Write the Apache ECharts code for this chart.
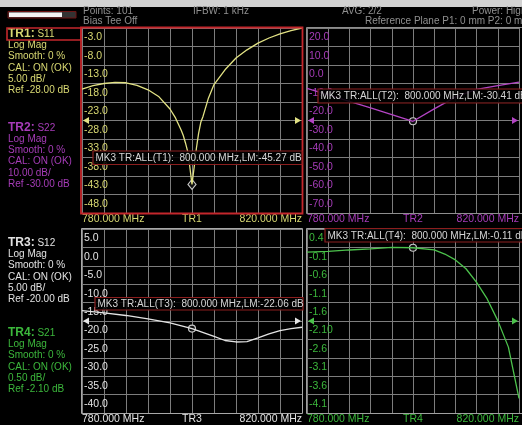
<!DOCTYPE html>
<html>
<head>
<meta charset="utf-8">
<script src="https://cdn.jsdelivr.net/npm/echarts@6/dist/echarts.min.js"></script>
<style>
  html, body { margin: 0; padding: 0; background: #000; }
  #c { width: 522px; height: 425px; }
</style>
</head>
<body>
<div id="c"></div>
<script>
// ---- sweep ----
const sweepStart = 780;   // MHz
const sweepStop = 820;    // MHz
const sweepStep = 4;      // MHz per division
const markerFreq = 800;   // MHz

// ---- TR1: S11 ----
const freqS11 = [780, 782, 784, 786, 788, 790, 792, 794, 796, 797, 798, 798.4, 798.8, 799.2, 799.6, 800, 800.4, 800.8, 801.2, 801.6, 802, 803, 804, 806, 808, 810, 812, 814, 816, 818, 820];
const s11 = [-19.5, -18.6, -18.0, -17.7, -17.8, -18.5, -19.7, -21.6, -24.9, -27.3, -30.5, -32.0, -34.0, -36.3, -40.5, -45.27, -40.5, -35.5, -31.5, -28.5, -26.9, -21.9, -18.3, -14.3, -11.1, -8.9, -7.1, -5.7, -4.6, -3.7, -3.0];
const tr1Ticks = ['-3.0', '-8.0', '-13.0', '-18.0', '-23.0', '-28.0', '-33.0', '-38.0', '-43.0', '-48.0'];

// ---- TR2: S22 ----
const freqS22 = [780, 784, 788, 792, 796, 800, 804, 808, 812, 816, 820];
const s22 = [-12.6, -16.2, -19.7, -23.2, -26.8, -30.41, -23.7, -17.4, -13.2, -11.1, -9.2];
const tr2Ticks = ['20.0', '10.0', '0.0', '-10.0', '-20.0', '-30.0', '-40.0', '-50.0', '-60.0', '-70.0'];

// ---- TR3: S12 ----
const freqS12 = [780, 784, 788, 792, 796, 800, 804, 806, 808, 810, 812, 814, 816, 818, 820];
const s12 = [-17.2, -17.8, -18.5, -19.4, -20.5, -22.06, -24.2, -25.3, -25.7, -25.6, -24.6, -23.5, -22.6, -22.1, -21.7];
const tr3Ticks = ['5.0', '0.0', '-5.0', '-10.0', '-15.0', '-20.0', '-25.0', '-30.0', '-35.0', '-40.0'];

// ---- TR4: S21 ----
const freqS21 = [780, 784, 788, 792, 796, 800, 804, 806, 808, 810, 812, 814, 816, 818, 820];
const s21 = [-0.23, -0.21, -0.17, -0.14, -0.10, -0.11, -0.17, -0.28, -0.44, -0.68, -1.05, -1.5, -2.09, -2.81, -4.2];
const tr4Ticks = ['0.4', '-0.1', '-0.6', '-1.1', '-1.6', '-2.10', '-2.6', '-3.1', '-3.6', '-4.1'];

// per-trace scale settings
const traceNames = ['TR1', 'TR2', 'TR3', 'TR4'];
const traceParams = ['S11', 'S22', 'S12', 'S21'];
const refLevels = [-28, -30, -20, -2.1];
const perDivs = [5, 10, 5, 0.5];
const markerValues = [-45.27, -30.41, -22.06, -0.11];

const FONT = '"Liberation Sans", Arial, sans-serif';
const GRID_LINE = '#7d7d7d';
const DIVS = 10;

const traces = [
  { freq: freqS11, vals: s11, ticks: tr1Ticks, color: '#e2e284', text: '#d8d872',
    grid: { left: 82, top: 28, width: 220, height: 185 }, mkSymbol: 'diamond' },
  { freq: freqS22, vals: s22, ticks: tr2Ticks, color: '#b344c4', text: '#a63cb8',
    grid: { left: 307, top: 28, width: 222, height: 185 }, mkSymbol: 'circle' },
  { freq: freqS12, vals: s12, ticks: tr3Ticks, color: '#e4e4e4', text: '#e2e2e2',
    grid: { left: 82, top: 229, width: 220, height: 184 }, mkSymbol: 'circle' },
  { freq: freqS21, vals: s21, ticks: tr4Ticks, color: '#4cc24c', text: '#3cb83c',
    grid: { left: 307, top: 229, width: 222, height: 184 }, mkSymbol: 'circle' }
];

const grids = [], xAxes = [], yAxes = [], series = [];

traces.forEach((t, i) => {
  const ref = refLevels[i], pd = perDivs[i];
  grids.push({ left: t.grid.left, top: t.grid.top, width: t.grid.width, height: t.grid.height, containLabel: false });

  xAxes.push({
    gridIndex: i, type: 'value', min: sweepStart, max: sweepStop, interval: sweepStep,
    axisLine: { show: false }, axisTick: { show: false },
    splitLine: { show: true, lineStyle: { color: GRID_LINE, width: 1 } },
    axisLabel: {
      show: true, margin: 1, color: t.text, fontSize: 10.5, fontFamily: FONT,
      alignMinLabel: 'left', alignMaxLabel: 'right',
      formatter: v => v === sweepStart ? sweepStart.toFixed(3) + ' MHz'
        : v === markerFreq ? traceNames[i]
        : v === sweepStop ? sweepStop.toFixed(3) + ' MHz' : ''
    }
  });

  // dB scale used by the trace
  yAxes.push({
    gridIndex: i, type: 'value', show: false,
    min: ref - pd * DIVS / 2, max: ref + pd * DIVS / 2
  });
  // division scale carrying the graticule and its labels
  yAxes.push({
    gridIndex: i, type: 'value', min: 0, max: DIVS, interval: 1, position: 'left',
    axisLine: { show: false }, axisTick: { show: false },
    splitLine: { show: true, lineStyle: { color: GRID_LINE, width: 1 } },
    axisLabel: {
      show: true, inside: true, margin: 2, verticalAlign: 'top', padding: [4, 0, 0, 0],
      color: t.text, fontSize: 10.5, fontFamily: FONT,
      formatter: v => t.ticks[DIVS - v] || ''
    }
  });

  series.push({
    type: 'line', xAxisIndex: i, yAxisIndex: 2 * i,
    data: t.freq.map((f, k) => [f, t.vals[k]]),
    showSymbol: false, symbol: 'none', silent: true,
    lineStyle: { color: t.color, width: 1.3 },
    z: 5,
    markPoint: {
      silent: true, animation: false,
      label: { show: false },
      data: [
        // active marker
        { coord: [markerFreq, markerValues[i]], symbol: t.mkSymbol,
          symbolSize: t.mkSymbol === 'diamond' ? [8, 10] : 7,
          itemStyle: { color: '#111', borderColor: '#c8c8c8', borderWidth: 1.2 } },
        // reference level arrows
        { coord: [sweepStart, ref], symbol: 'triangle', symbolSize: [7, 6], symbolRotate: 90,
          symbolOffset: [4, 0], itemStyle: { color: t.color } },
        { coord: [sweepStop, ref], symbol: 'triangle', symbolSize: [7, 6], symbolRotate: -90,
          symbolOffset: [-4, 0], itemStyle: { color: t.color } }
      ]
    }
  });
});

// ---- screen furniture ----
const graphic = [];

// top band and status bar
graphic.push({ type: 'rect', shape: { x: 0, y: 0, width: 522, height: 7 }, style: { fill: '#d2d2d2' }, z: 1 });
graphic.push({ type: 'rect', shape: { x: 8, y: 11.5, width: 68, height: 6.5 }, style: { fill: '#333', stroke: '#6e1414', lineWidth: 1 }, z: 1 });
graphic.push({ type: 'rect', shape: { x: 9, y: 12.5, width: 53, height: 4.5 }, style: { fill: '#f4f4f4' }, z: 2 });

const headerColor = '#909090';
const headerItems = [
  ['Points: 101', 83, 11.7], ['Bias Tee Off', 83, 21.7],
  ['IFBW: 1 kHz', 193, 11.7], ['AVG: 2/2', 342, 11.7],
  ['Power: High', 472, 11.7], ['Reference Plane P1: 0 mm P2: 0 mm', 365, 21.7]
];
headerItems.forEach(([s, x, y]) => graphic.push({
  type: 'text', x, y, z: 3,
  style: { text: s, fill: headerColor, font: '10px ' + FONT, verticalAlign: 'middle', align: 'left' }
}));

// channel status blocks on the left
const blockTops = [34, 127.8, 243, 333];
const lineStep = 11.3;
traces.forEach((t, i) => {
  const lines = [
    '{b|' + traceNames[i] + ':} ' + traceParams[i],
    'Log Mag', 'Smooth: 0 %', 'CAL: ON (OK)',
    perDivs[i].toFixed(2) + ' dB/',
    'Ref ' + refLevels[i].toFixed(2) + ' dB'
  ];
  lines.forEach((s, k) => graphic.push({
    type: 'text', x: 8, y: blockTops[i] + k * lineStep, z: 3,
    style: {
      text: s, fill: t.text, font: '10px ' + FONT, verticalAlign: 'middle', align: 'left',
      rich: { b: { fontWeight: 'bold', fill: t.text, font: 'bold 10px ' + FONT } }
    }
  }));
});

// panel frames
const frames = [
  { x: 81, y: 27.5, w: 221.5, h: 186, c: '#c4272c', lw: 1.8 },
  { x: 306.5, y: 27.5, w: 230, h: 186, c: '#8e8e8e', lw: 1 },
  { x: 81.5, y: 228.5, w: 221, h: 185, c: '#a8a8a8', lw: 1 },
  { x: 306.5, y: 228.5, w: 230, h: 185, c: '#a0a0a0', lw: 1 }
];
frames.forEach(f => graphic.push({
  type: 'rect', shape: { x: f.x, y: f.y, width: f.w, height: f.h }, z: 50,
  style: { fill: 'none', stroke: f.c, lineWidth: f.lw }
}));
// active trace tab
graphic.push({ type: 'rect', shape: { x: 7, y: 28, width: 74, height: 12 }, z: 50,
  style: { fill: 'none', stroke: '#c4272c', lineWidth: 1.6 } });

// marker readouts
const readoutBoxes = [
  { x: 93, y: 151, w: 209, h: 13.5 },
  { x: 318, y: 89, w: 215, h: 14 },
  { x: 95, y: 297.5, w: 208, h: 12.5 },
  { x: 325, y: 228.5, w: 215, h: 13.5 }
];
readoutBoxes.forEach((b, i) => {
  graphic.push({ type: 'rect', shape: { x: b.x, y: b.y, width: b.w, height: b.h }, z: 60,
    style: { fill: 'rgba(0,0,0,0.88)', stroke: '#8c1e1e', lineWidth: 1.2 } });
  graphic.push({ type: 'text', x: b.x + 2.5, y: b.y + b.h / 2 + 0.5, z: 61,
    style: {
      text: 'MK3 TR:ALL(T' + (i + 1) + '):  ' + markerFreq.toFixed(3) + ' MHz,LM:' + markerValues[i].toFixed(2) + ' dB',
      fill: '#d6d6d6', font: '10px ' + FONT, verticalAlign: 'middle', align: 'left'
    } });
});

const chart = echarts.init(document.getElementById('c'), null, { renderer: 'canvas' });
chart.setOption({
  backgroundColor: '#000',
  animation: false,
  grid: grids,
  xAxis: xAxes,
  yAxis: yAxes,
  series: series,
  graphic: graphic
});
</script>
</body>
</html>
